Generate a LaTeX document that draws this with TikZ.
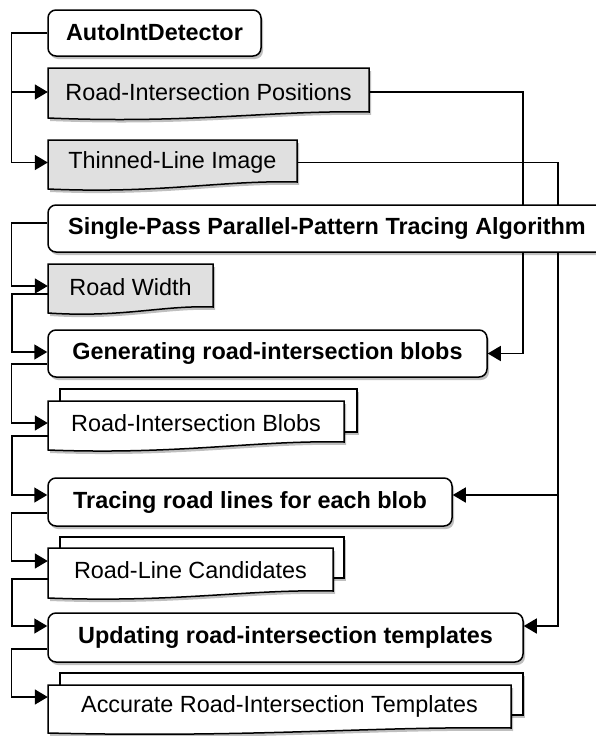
\documentclass[tikz,border=0pt]{standalone}
\usepackage{fontspec}
\setmainfont{Liberation Sans}
\usetikzlibrary{arrows.meta,shadows,backgrounds}
\definecolor{docgray}{RGB}{224,224,224}
\tikzset{
  shd/.style={drop shadow={shadow xshift=2pt,shadow yshift=-3pt,opacity=0.25,fill=black}},
  procbox/.style={draw, line width=1.5pt, rounded corners=8pt, fill=white, shd},
  docshape/.style={draw, line width=1.5pt, fill=docgray, shd},
  docwhite/.style={draw, line width=1.5pt, fill=white, shd},
  lbl/.style={inner sep=0pt, font=\fontsize{23.4}{28}\selectfont},
  blbl/.style={inner sep=0pt, font=\fontsize{23.4}{28}\selectfont\bfseries},
  conn/.style={line width=1.5pt},
  arr/.style={conn, -{Triangle[length=13pt,width=15pt]}},
}
\begin{document}
\begin{tikzpicture}[x=1pt,y=-1pt]
\useasboundingbox (0,0) rectangle (596,736);
\clip (0,0) rectangle (596,736);

% ---- shapes and labels ----
\node[procbox, blbl, minimum width=213pt, minimum height=46pt] (auto) at (154.5,33) {AutoIntDetector};

\path[docshape] (48,68) -- (369,68) -- (369,112) .. controls (273,110) and (192,124) .. (48,118) -- cycle;
\node[lbl, minimum width=321pt, minimum height=44pt] (rip) at (208.5,92) {Road-Intersection Positions};

\path[docshape] (48,140) -- (297,140) -- (297,182) .. controls (222,180) and (160,194) .. (48,189) -- cycle;
\node[lbl, minimum width=249pt, minimum height=44pt] (tli) at (172.5,162.5) {Thinned-Line Image};

\node[procbox, blbl, minimum width=558pt, minimum height=47pt] (sp) at (327,228.5) {Single-Pass Parallel-Pattern Tracing Algorithm};

\path[docshape] (48,264) -- (213,264) -- (213,307) .. controls (163,305) and (122,318) .. (48,313) -- cycle;
\node[lbl, minimum width=165pt, minimum height=44pt] (rw) at (130.5,287) {Road Width};

\node[procbox, blbl, minimum width=439pt, minimum height=47pt] (gen) at (267.5,353.5) {Generating road-intersection blobs};

\path[docwhite] (60,389) rectangle (357,432);
\path[docwhite] (48,401) -- (344,401) -- (344,442) .. controls (255,440) and (181,455) .. (48,450) -- cycle;
\node[lbl, minimum width=296pt, minimum height=44pt] (rib) at (196,423) {Road-Intersection Blobs};

\node[procbox, blbl, minimum width=404pt, minimum height=48pt] (tr) at (250,502) {Tracing road lines for each blob};

\path[docwhite] (60,537) rectangle (344,578);
\path[docwhite] (48,548) -- (333,548) -- (333,591) .. controls (247,589) and (176,603) .. (48,598) -- cycle;
\node[lbl, minimum width=285pt, minimum height=44pt] (rlc) at (190.5,570) {Road-Line Candidates};

\node[procbox, blbl, minimum width=475pt, minimum height=49pt] (upd) at (285.5,637.5) {Updating road-intersection templates};

\path[docwhite] (60,673) rectangle (523,715);
\path[docwhite] (48,685) -- (511,685) -- (511,728) .. controls (372,726) and (256,738) .. (48,733) -- cycle;
\node[lbl, minimum width=463pt, minimum height=43pt] (arit) at (279.5,706.5) {Accurate Road-Intersection Templates};

% ---- connectors ----
\coordinate (rc1) at (523,200);
\coordinate (rc2) at (558,400);
\coordinate (rc3) at (558,495);
\begin{scope}[on background layer]
  \draw[arr] (auto.west) -- ++(-36,0) |- (rip.west);
  \draw[arr] (auto.west) -- ++(-36,0) |- (tli.west);
  \draw[arr] ([yshift=5.5pt]sp.west) -- ++(-36,0) |- ([yshift=1pt]rw.west);
  \draw[arr] ([yshift=-7pt]rw.west) -- ++(-36,0) |- ([yshift=1.5pt]gen.west);
  \draw[arr] ([yshift=-10.5pt]gen.west) -- ++(-36,0) |- (rib.west);
  \draw[arr] ([yshift=-13pt]rib.west) -- ++(-36,0) |- ([yshift=7pt]tr.west);
  \draw[arr] ([yshift=-11pt]tr.west) -- ++(-36,0) |- ([yshift=9pt]rlc.west);
  \draw[arr] ([yshift=-9pt]rlc.west) -- ++(-36,0) |- ([yshift=11.5pt]upd.west);
  \draw[arr] ([yshift=-11.5pt]upd.west) -- ++(-36,0) |- ([yshift=9.5pt]arit.west);

  \draw[arr] (rip.east) -| (rc1) |- (gen.east);
  \draw[arr] (tli.east) -| (rc2) |- ([yshift=11.5pt]upd.east);
  \draw[arr] (rc3) -- ([yshift=7pt]tr.east);
\end{scope}
\end{tikzpicture}
\end{document}
